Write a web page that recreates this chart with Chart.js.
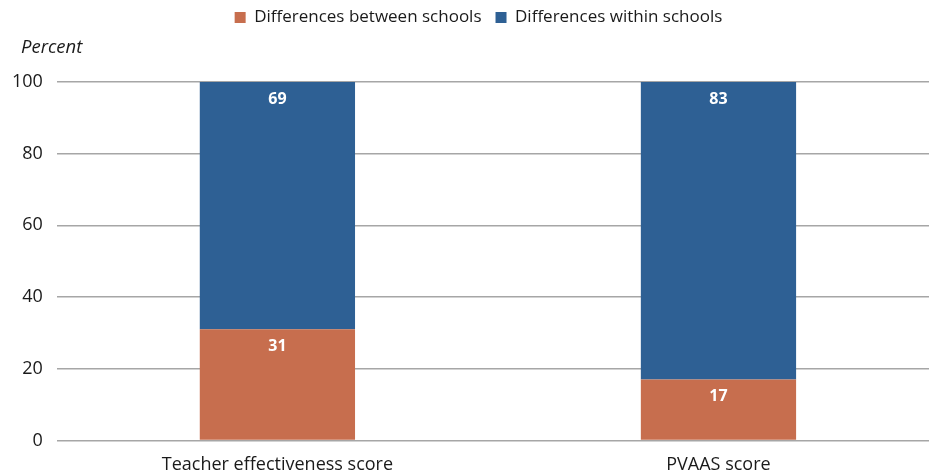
<!DOCTYPE html>
<html lang="en">
<head>
    <meta charset="UTF-8">
    <title>Variance decomposition</title>
    <script src="https://cdn.jsdelivr.net/npm/chart.js"></script>
    <style>
        body {
            margin: 0;
            padding: 0;
            background: #fff;
            overflow: hidden;
        }
        /* the plot runs a little past the right edge, as in the original */
        #wrap {
            width: 929px;
            height: 475px;
            overflow: hidden;
        }
        #inner {
            width: 939px;
            height: 475px;
        }
    </style>
</head>
<body>
    <div id="wrap"><div id="inner"><canvas id="chart"></canvas></div></div>

    <script>
        // Data
        const categories = ['Teacher effectiveness score', 'PVAAS score'];
        const betweenSchools = [31, 17];
        const withinSchools = [69, 83];
        const yTicks = [0, 20, 40, 60, 80, 100];

        const FONT = '"Open Sans", "Noto Sans", sans-serif';

        // "Percent" label above the y axis
        const unitLabel = {
            id: 'unitLabel',
            afterDraw(chart) {
                const ctx = chart.ctx;
                ctx.save();
                ctx.font = 'italic 18.5px ' + FONT;
                ctx.fillStyle = '#1a1a1a';
                ctx.textAlign = 'left';
                ctx.textBaseline = 'middle';
                ctx.fillText('Percent', 21, 48);
                ctx.restore();
            }
        };

        // legend is taller than its text so the plot starts lower,
        // and sits a bit right of centre
        const legendSpace = {
            id: 'legendSpace',
            beforeInit(chart) {
                const fit = chart.legend.fit;
                chart.legend.fit = function () {
                    fit.bind(chart.legend)();
                    this.height = 87;
                };
            },
            afterLayout(chart) {
                chart.legend.left += 10;
                chart.legend.right += 10;
            }
        };

        // white value labels near the top of each segment
        const segmentLabels = {
            id: 'segmentLabels',
            afterDatasetsDraw(chart) {
                const ctx = chart.ctx;
                ctx.save();
                ctx.font = 'bold 16px ' + FONT;
                ctx.fillStyle = '#ffffff';
                ctx.textAlign = 'center';
                ctx.textBaseline = 'middle';
                chart.data.datasets.forEach((ds, i) => {
                    chart.getDatasetMeta(i).data.forEach((bar, j) => {
                        ctx.fillText(ds.data[j], bar.x, bar.y + 17);
                    });
                });
                ctx.restore();
            }
        };

        new Chart(document.getElementById('chart'), {
            type: 'bar',
            data: {
                labels: categories,
                datasets: [
                    {
                        label: 'Differences between schools',
                        data: betweenSchools,
                        backgroundColor: '#c76e4e',
                        barPercentage: 0.352,
                        categoryPercentage: 1
                    },
                    {
                        label: 'Differences within schools',
                        data: withinSchools,
                        backgroundColor: '#2e6094',
                        barPercentage: 0.352,
                        categoryPercentage: 1
                    }
                ]
            },
            options: {
                responsive: true,
                maintainAspectRatio: false,
                animation: false,
                layout: {
                    padding: { top: -5, right: 0, left: -2, bottom: -15 }
                },
                plugins: {
                    legend: {
                        position: 'top',
                        labels: {
                            font: { family: FONT, size: 17 },
                            color: '#1a1a1a',
                            boxWidth: 11,
                            boxHeight: 11,
                            padding: 14,
                            useBorderRadius: false
                        }
                    },
                    tooltip: { enabled: false }
                },
                scales: {
                    x: {
                        stacked: true,
                        grid: { display: false, drawTicks: false },
                        border: { display: false },
                        afterFit(axis) {
                            axis.paddingLeft = 0;
                            axis.paddingRight = 0;
                        },
                        ticks: {
                            font: { family: FONT, size: 18 },
                            color: '#1a1a1a',
                            padding: 14
                        }
                    },
                    y: {
                        stacked: true,
                        min: 0,
                        max: 100,
                        afterBuildTicks(axis) {
                            axis.ticks = yTicks.map(v => ({ value: v }));
                        },
                        grid: {
                            color: '#a6a6a6',
                            lineWidth: 1.5,
                            drawTicks: false
                        },
                        border: { display: false },
                        ticks: {
                            font: { family: FONT, size: 18 },
                            color: '#1a1a1a',
                            padding: 14
                        }
                    }
                }
            },
            plugins: [legendSpace, unitLabel, segmentLabels]
        });
    </script>
</body>
</html>
